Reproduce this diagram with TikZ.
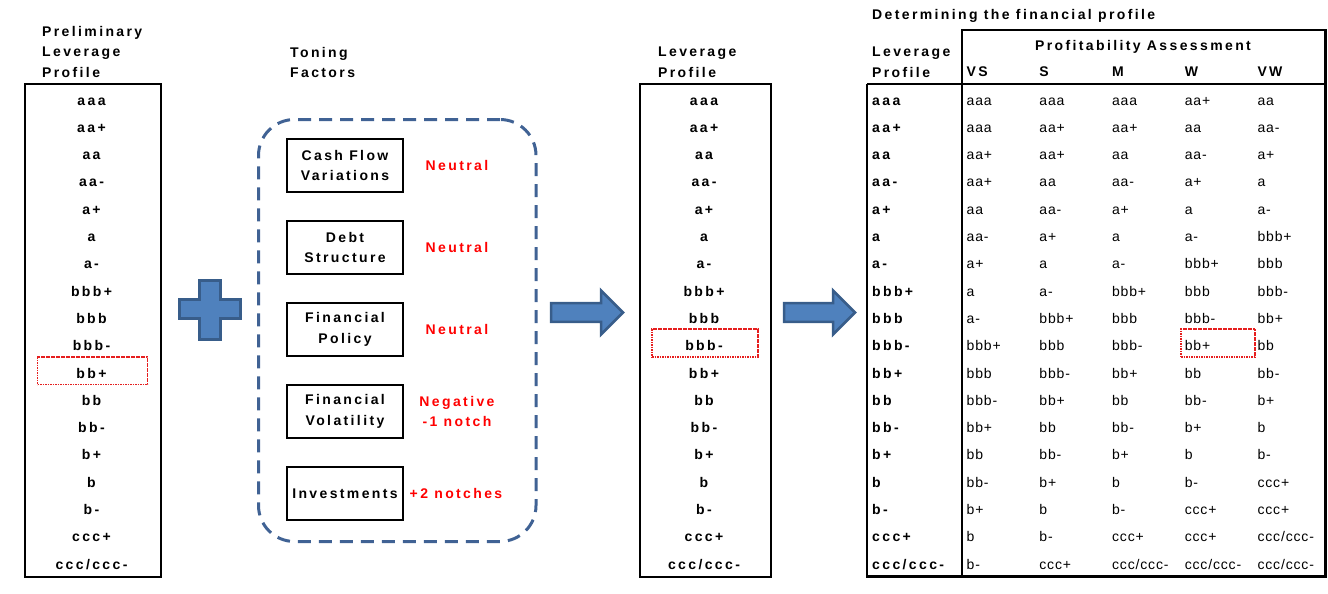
\documentclass[tikz,border=0pt]{standalone}
\usepackage{fontspec}
\setmainfont{Liberation Sans}
\newfontfamily\spfam[LetterSpace=17]{Liberation Sans}
\newfontfamily\cellfam[LetterSpace=6]{Liberation Sans}
\newcommand\btfont{\spfam\bfseries\fontsize{14}{20.5}\selectfont}
\newcommand\cellfont{\cellfam\fontsize{14}{16}\selectfont}
\newcommand\cccm{ccc/ccc-}
\definecolor{arrfill}{HTML}{4F81BD}
\definecolor{arrdraw}{HTML}{385D8A}
\definecolor{dashblue}{RGB}{64,98,148}
\definecolor{hlred}{RGB}{230,30,30}
\begin{document}
\begin{tikzpicture}[x=1pt,y=-1pt,
  bt/.style={font=\btfont, inner sep=0pt},
  ttl/.style={bt, align=left, anchor=north west},
  rate/.style={bt, anchor=base},
  rowlab/.style={bt, anchor=base west},
  cell/.style={font=\cellfont, inner sep=0pt, anchor=base west},
  colframe/.style={draw, line width=2pt, inner sep=0pt},
  hlbox/.style={draw=hlred, line width=1.2pt, dash pattern=on 1.6pt off 0.9pt, inner sep=0pt},
  factor/.style={draw, line width=2pt, minimum width=116pt, minimum height=53pt, align=center, font=\btfont, inner sep=0pt},
  effect/.style={bt, text=red, align=center},
  blockarrow/.style={fill=arrfill, draw=arrdraw, line width=2.5pt, line join=miter},
  toning/.style={draw=dashblue, line width=3pt, dash pattern=on 13pt off 8pt, rounded corners=36pt, inner sep=0pt},
  tableline/.style={line width=2.5pt},
]
\useasboundingbox (0,0) rectangle (1328,594);

% titles
\node[ttl] (prelim) at (42,26) {Preliminary\\Leverage\\Profile};
\node[ttl] (toneT) at (290,47) {Toning\\Factors};
\node[ttl] (levT) at (658,47) {Leverage\\Profile};
\node[ttl] (tabLev) at (872,47) {Leverage\\Profile};
\node[bt, anchor=base west] (det) at (872,20) {Determining the financial profile};
\node[bt, anchor=base] (pa) at (1143,51) {Profitability Assessment};
\foreach \h [count=\j] in {VS,S,M,W,VW}
  \node[bt, anchor=base west] (h\j) at ({966.5+72.7*(\j-1)},77) {\h};

% rating columns
\node[colframe, minimum width=135.5pt, minimum height=492.5pt] (leftcol) at (92.75,330.25) {};
\node[colframe, minimum width=131pt, minimum height=492.5pt] (midcol) at (705.5,330.25) {};
\foreach \r [count=\i] in {aaa,aa+,aa,aa-,a+,a,a-,bbb+,bbb,bbb-,bb+,bb,bb-,b+,b,b-,ccc+,\cccm} {
  \node[rate] (l\i) at (91.5,{105+27.3*(\i-1)}) {\r};
  \node[rate] (m\i) at (704,{105+27.3*(\i-1)}) {\r};
}

% highlight boxes
\node[hlbox, minimum width=110pt, minimum height=27.5pt] (hlL) at (92.5,370.8) {};
\node[hlbox, minimum width=106pt, minimum height=28pt] (hlM) at (705,343) {};
\node[hlbox, minimum width=74pt, minimum height=28pt] (hlT) at (1218,343) {};

% plus
\draw[blockarrow] (199.5,280.5) -- (220.5,280.5) -- (220.5,299.5) -- (240.5,299.5) -- (240.5,318.5) -- (220.5,318.5) -- (220.5,339.5) -- (199.5,339.5) -- (199.5,318.5) -- (179.5,318.5) -- (179.5,299.5) -- (199.5,299.5) -- cycle;

% block arrows
\coordinate (a1) at (550,312.5);
\coordinate (a2) at (783,312.5);
\foreach \a/\len in {a1/51,a2/50}
  \draw[blockarrow, shift={(\a)}] (1.2,-9.3) -- (\len,-9.3) -- (\len,-22) -- (\len+22,0) -- (\len,22) -- (\len,9.3) -- (1.2,9.3) -- cycle;

% toning factors
\node[toning, minimum width=277.5pt, minimum height=422pt] (tone) at (397.25,330.5) {};
\node[factor] (f1) at (345,165.5) {Cash Flow\\Variations};
\node[factor] (f2) at (345,247.5) {Debt\\Structure};
\node[factor] (f3) at (345,329.5) {Financial\\Policy};
\node[factor] (f4) at (345,411.5) {Financial\\Volatility};
\node[factor] (f5) at (345,493.5) {Investments};
\node[effect] (e1) at (457,165.5) {Neutral};
\node[effect] (e2) at (457,247.5) {Neutral};
\node[effect] (e3) at (457,329.5) {Neutral};
\node[effect] (e4) at (457,411.5) {Negative\\-1 notch};
\node[effect] (e5) at (456,493.5) {+2 notches};

% table
\draw[tableline] (867,84) -- (1325.5,84);
\draw[tableline] (867,84) -- (867,576.5) -- (1325.5,576.5) -- (1325.5,30) -- (962,30) -- (962,576.5);
\foreach \lab/\cells [count=\i] in {
  aaa/{aaa,aaa,aaa,aa+,aa},
  aa+/{aaa,aa+,aa+,aa,aa-},
  aa/{aa+,aa+,aa,aa-,a+},
  aa-/{aa+,aa,aa-,a+,a},
  a+/{aa,aa-,a+,a,a-},
  a/{aa-,a+,a,a-,bbb+},
  a-/{a+,a,a-,bbb+,bbb},
  bbb+/{a,a-,bbb+,bbb,bbb-},
  bbb/{a-,bbb+,bbb,bbb-,bb+},
  bbb-/{bbb+,bbb,bbb-,bb+,bb},
  bb+/{bbb,bbb-,bb+,bb,bb-},
  bb/{bbb-,bb+,bb,bb-,b+},
  bb-/{bb+,bb,bb-,b+,b},
  b+/{bb,bb-,b+,b,b-},
  b/{bb-,b+,b,b-,ccc+},
  b-/{b+,b,b-,ccc+,ccc+},
  ccc+/{b,b-,ccc+,ccc+,\cccm},
  \cccm/{b-,ccc+,\cccm,\cccm,\cccm}} {
  \node[rowlab] (r\i) at (872,{105+27.3*(\i-1)}) {\lab};
  \foreach \c [count=\j] in \cells
    \node[cell] (t\i-\j) at ({966.5+72.7*(\j-1)},{105+27.3*(\i-1)}) {\c};
}
\end{tikzpicture}
\end{document}
